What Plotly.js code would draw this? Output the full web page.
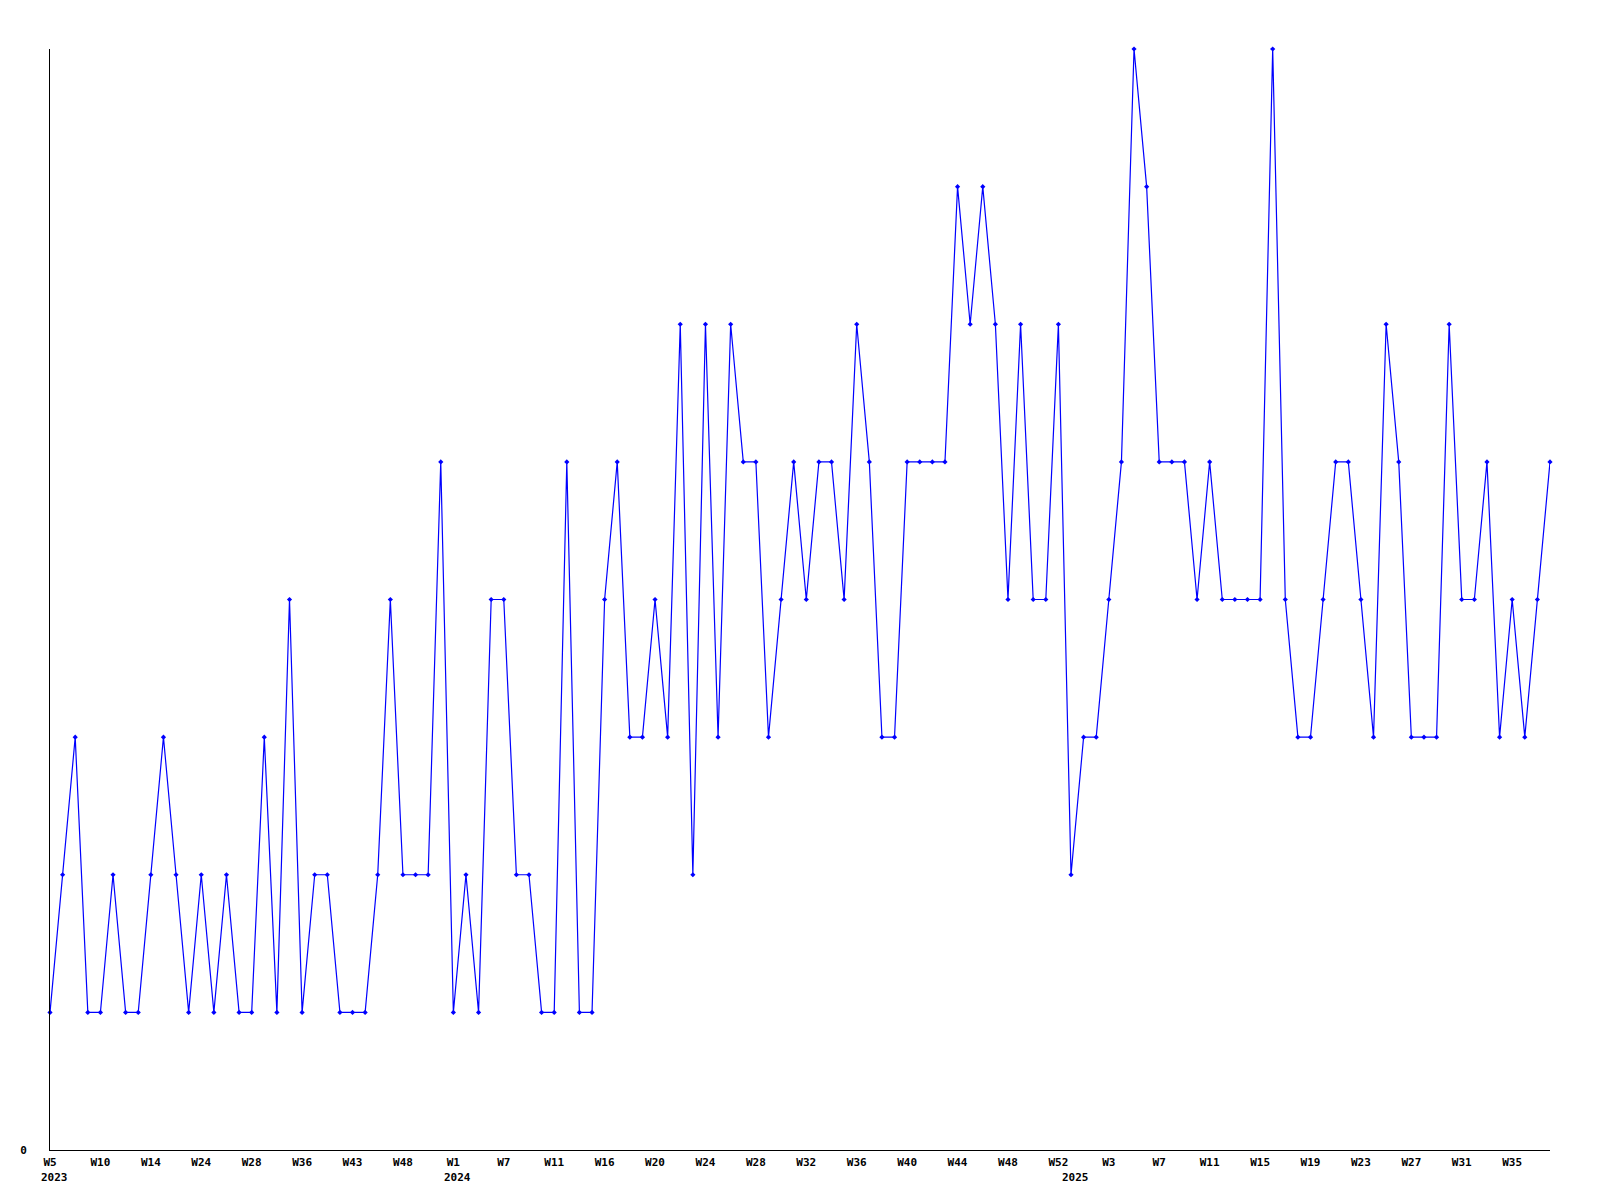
<!DOCTYPE html>
<html>
<head>
<meta charset="utf-8">
<script src="https://cdn.plot.ly/plotly-3.0.1.min.js"></script>
<style>html,body{margin:0;padding:0;background:#fff;}#chart{width:1600px;height:1200px;}</style>
</head>
<body>
<div id="chart"></div>
<script>
// weekly counts, one per reported week (index = position along the axis)
const values = [
  1,2,3,1,1,2,1,1,2,3,
  2,1,2,1,2,1,1,3,1,4,
  1,2,2,1,1,1,2,4,2,2,
  2,5,1,2,1,4,4,2,2,1,
  1,5,1,1,4,5,3,3,4,3,
  6,2,6,3,6,5,5,3,4,5,
  4,5,5,4,6,5,3,3,5,5,
  5,5,7,6,7,6,4,6,4,4,
  6,2,3,3,4,5,8,7,5,5,
  5,4,5,4,4,4,4,8,4,3,
  3,4,5,5,4,3,6,5,3,3,
  3,6,4,4,5,3,4,3,4,5
];
const tickIdx = [0,4,8,12,16,20,24,28,32,36,40,44,48,52,56,60,64,68,72,76,80,84,88,92,96,100,104,108,112,116];
const tickText = ["W5","W10","W14","W24","W28","W36","W43","W48","W1","W7","W11","W16","W20","W24","W28","W32","W36","W40","W44","W48","W52","W3","W7","W11","W15","W19","W23","W27","W31","W35"];
const yearIdx = [0,32,81];
const yearText = ["2023","2024","2025"];

const xs = values.map((v,i)=>i);
const font = {family:"DejaVu Sans Mono, Liberation Mono, monospace", size:11, color:"#000", weight:"bold"};

const trace = {
  x: xs, y: values, type:"scatter", mode:"lines+markers",
  line:{color:"#0000ff", width:1.2},
  marker:{color:"#0000ff", symbol:"diamond", size:4},
  cliponaxis:false, hoverinfo:"x+y"
};

const annotations = yearIdx.map((xi,k)=>({
  x: xi, y: 0, xref:"x", yref:"paper", text: yearText[k],
  showarrow:false, xanchor:"left", yanchor:"middle", xshift:-11, yshift:-27,
  font: font
}));

const layout = {
  width:1600, height:1200,
  margin:{l:50, r:50, t:49, b:50, pad:0},
  paper_bgcolor:"#fff", plot_bgcolor:"#fff",
  showlegend:false,
  font: font,
  xaxis:{
    range:[0, values.length-1], showgrid:false, zeroline:false,
    showline:true, linecolor:"#000", linewidth:1,
    tickmode:"array", tickvals:tickIdx, ticktext:tickText,
    ticks:"", tickfont:font, ticklabelstandoff:2
  },
  yaxis:{
    range:[0,8], showgrid:false, zeroline:false,
    showline:true, linecolor:"#000", linewidth:1,
    tickmode:"array", tickvals:[0], ticktext:["0"],
    ticks:"", tickfont:font, ticklabelstandoff:20
  },
  annotations: annotations
};

Plotly.newPlot("chart", [trace], layout, {staticPlot:true});
</script>
</body>
</html>
